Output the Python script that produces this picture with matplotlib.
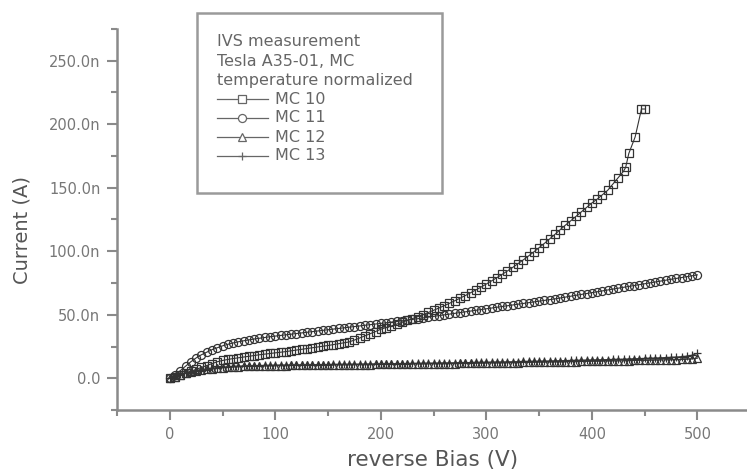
import numpy as np
import matplotlib
matplotlib.use('Agg')
from matplotlib import pyplot as plt
from matplotlib.lines import Line2D
from matplotlib.patches import Rectangle
from matplotlib.ticker import FuncFormatter, MultipleLocator

plt.rcParams['font.family'] = ['DejaVu Sans']

# bias steps (V), 5 V
bias = list(range(0, 505, 5))

# MC 10 stops early (breakdown), last points are uneven
bias_mc10 = list(range(0, 435, 5)) + [432, 435, 441, 447, 450]
mc10 = [0, 1, 2.5, 4, 5.5, 7, 8.5, 10, 11.5, 13,
        14, 14.8, 15.5, 16.1, 16.7, 17.3, 17.9, 18.5, 19, 19.5,
        20, 20.5, 21, 21.6, 22.2, 22.8, 23.4, 24, 24.6, 25.2,
        25.8, 26.5, 27.2, 27.9, 28.6, 30.1, 31.7, 33.4, 35.1, 36.8,
        38.6, 39.9, 41.2, 42.6, 44, 45.5, 47, 48.5, 50.1, 51.8,
        53.5, 55.3, 57.1, 59, 61, 63, 65.1, 67.3, 69.5, 71.8,
        74.2, 76.7, 79.2, 81.8, 84.5, 87.3, 90.2, 93.2, 96.3, 99.5,
        102.8, 106.2, 109.7, 113.3, 117, 120.6, 124, 127.5, 131, 134.5,
        138, 141, 144.5, 148, 153, 158, 163,
        166, 177, 190, 212, 212]
mc11 = [0, 2.5, 6, 9.5, 13, 16, 18.5, 20.5, 22.5, 24,
        25.5, 26.7, 27.8, 28.7, 29.5, 30.2, 30.9, 31.5, 32.1, 32.7,
        33.2, 33.7, 34.2, 34.7, 35.2, 35.7, 36.2, 36.7, 37.2, 37.7,
        38.2, 38.7, 39.2, 39.7, 40.2, 40.7, 41.2, 41.7, 42.2, 42.7,
        43.2, 43.7, 44.2, 44.7, 45.2, 45.7, 46.3, 46.9, 47.5, 48.1,
        48.7, 49.3, 49.9, 50.5, 51.1, 51.7, 52.3, 52.9, 53.5, 54.1,
        54.7, 55.3, 55.9, 56.5, 57.1, 57.7, 58.3, 58.9, 59.5, 60.1,
        60.7, 61.3, 61.9, 62.5, 63.2, 63.9, 64.6, 65.3, 66, 66.7,
        67.4, 68.1, 68.8, 69.5, 70.2, 70.9, 71.6, 72.3, 73, 73.7,
        74.4, 75.1, 75.8, 76.5, 77.2, 77.9, 78.6, 79.3, 80, 80.7,
        81.4]
mc12 = [0, 1.3, 2.7, 3.9, 4.9, 5.7, 6.4, 7, 7.5, 7.9,
        8.3, 8.6, 8.9, 9.1, 9.3, 9.4, 9.5, 9.6, 9.7, 9.8,
        9.9, 10, 10, 10.1, 10.1, 10.2, 10.2, 10.3, 10.3, 10.4,
        10.4, 10.5, 10.5, 10.6, 10.6, 10.7, 10.7, 10.8, 10.8, 10.9,
        10.9, 11, 11, 11.1, 11.1, 11.2, 11.2, 11.3, 11.3, 11.4,
        11.4, 11.5, 11.5, 11.6, 11.6, 11.7, 11.7, 11.8, 11.9, 11.9,
        12, 12.1, 12.1, 12.2, 12.3, 12.3, 12.4, 12.5, 12.5, 12.6,
        12.7, 12.7, 12.8, 12.9, 12.9, 13, 13.1, 13.1, 13.2, 13.3,
        13.4, 13.4, 13.5, 13.6, 13.7, 13.7, 13.8, 13.9, 14, 14.1,
        14.1, 14.2, 14.3, 14.4, 14.5, 14.6, 14.7, 14.8, 15, 15.3,
        15.8]
mc13 = [0, 1.6, 3.1, 4.3, 5.3, 6.1, 6.8, 7.4, 7.9, 8.3,
        8.7, 9, 9.3, 9.5, 9.7, 9.8, 9.9, 10, 10.1, 10.2,
        10.3, 10.4, 10.4, 10.5, 10.5, 10.6, 10.6, 10.7, 10.7, 10.8,
        10.8, 10.9, 10.9, 11, 11, 11.1, 11.1, 11.2, 11.2, 11.3,
        11.3, 11.4, 11.4, 11.5, 11.6, 11.6, 11.7, 11.7, 11.8, 11.9,
        11.9, 12, 12.1, 12.1, 12.2, 12.3, 12.3, 12.4, 12.5, 12.5,
        12.6, 12.7, 12.8, 12.8, 12.9, 13, 13.1, 13.2, 13.2, 13.3,
        13.4, 13.5, 13.6, 13.7, 13.8, 13.9, 14, 14.1, 14.2, 14.3,
        14.4, 14.5, 14.6, 14.7, 14.8, 14.9, 15, 15.2, 15.3, 15.5,
        15.6, 15.8, 15.9, 16.1, 16.3, 16.5, 16.7, 17, 17.4, 18.2,
        19.6]

labels = ['MC 10', 'MC 11', 'MC 12', 'MC 13']
markers = ['s', 'o', '^', '+']
title_lines = ['IVS measurement', 'Tesla A35-01, MC', 'temperature normalized']

W, H = 747, 473
fig = plt.figure(figsize=(W / 100, H / 100), dpi=100)
ax = fig.add_axes([117 / W, 1 - 410 / H, 1 - 117 / W, (410 - 29) / H])

ink = '#333333'
series = [(bias_mc10, mc10), (bias, mc11), (bias, mc12), (bias, mc13)]
for (xv, yv), m, lab in zip(series, markers, labels):
    ax.plot(xv, np.array(yv) * 1e-9, color=ink, lw=0.8, marker=m, ms=5.8,
            mfc='none', mec=ink, mew=0.9, label=lab)

ax.set_xlim(-50, 547)
ax.set_ylim(-25e-9, 275e-9)
ax.xaxis.set_major_locator(MultipleLocator(100))
ax.xaxis.set_minor_locator(MultipleLocator(50))
ax.yaxis.set_major_locator(MultipleLocator(50e-9))
ax.yaxis.set_minor_locator(MultipleLocator(25e-9))


def nano(v, pos):
    if abs(v) < 1e-12:
        return '0.0'
    return '%.1fn' % (v * 1e9)


ax.yaxis.set_major_formatter(FuncFormatter(nano))
for s in ['top', 'right']:
    ax.spines[s].set_visible(False)
for s in ['left', 'bottom']:
    ax.spines[s].set_color('#8a8a8a')
    ax.spines[s].set_linewidth(1.8)
ax.tick_params(which='major', length=7, width=1.5, color='#8a8a8a',
               labelsize=10.5, labelcolor='#777777', pad=5)
ax.tick_params(which='minor', length=4, width=1.5, color='#8a8a8a')

fig.text(22 / W, 1 - 230 / H, 'Current (A)', rotation=90, ha='center',
         va='center', fontsize=14, color='#555555')
fig.text(433 / W, 1 - 460 / H, 'reverse Bias (V)', ha='center',
         va='center', fontsize=15.5, color='#555555')

# legend box
fig.patches.append(Rectangle((197 / W, 1 - 193 / H), 245 / W, 180 / H,
                             transform=fig.transFigure, fill=False,
                             ec='#9a9a9a', lw=1.8))
ys = [42, 61, 80, 99, 118, 137, 156]
for t, y in zip(title_lines, ys[:3]):
    fig.text(217 / W, 1 - y / H, t, fontsize=11.5, color='#666666', va='center')
for lab, m, y in zip(labels, markers, ys[3:]):
    yy = 1 - y / H
    fig.add_artist(Line2D([217 / W, 268 / W], [yy, yy], transform=fig.transFigure,
                          color='#666666', lw=0.9))
    fig.add_artist(Line2D([242 / W], [yy], transform=fig.transFigure, marker=m,
                          ms=5.8, mfc='white', mec='#666666', mew=0.9))
    fig.text(275 / W, yy, lab, fontsize=11.5, color='#666666', va='center')

fig.savefig('out.png', dpi=100)
